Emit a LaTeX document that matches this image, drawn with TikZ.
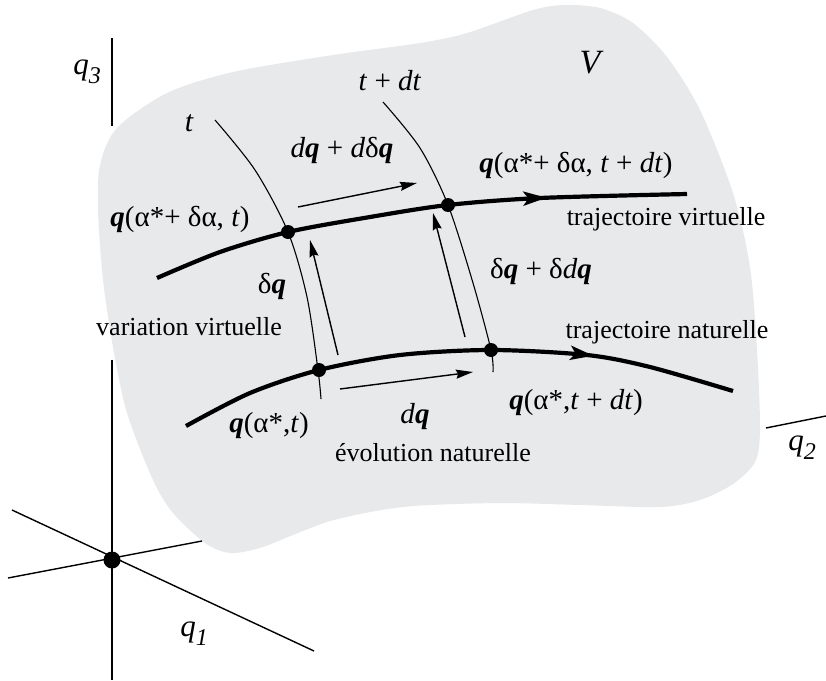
\documentclass[tikz,border=0pt]{standalone}
\usepackage{fontspec}
\setmainfont{Liberation Serif}
\usetikzlibrary{arrows.meta,decorations.markings}
\definecolor{regiongray}{RGB}{232,233,235}
\newcommand{\bq}{\textbf{\textit{q}}}
\begin{document}
\begin{tikzpicture}[x=1pt,y=-1pt,
  axisline/.style={line width=1.4pt,black},
  thincurve/.style={line width=1.1pt,black},
  traj/.style={line width=4.2pt,black,line cap=butt,postaction={decorate},
    decoration={markings,mark=at position #1 with {\arrow{Stealth[length=23pt,width=14pt,inset=5pt]}}}},
  vec/.style={line width=1.4pt,-{Stealth[length=17pt,width=9pt,inset=2pt]}},
  pt/.style={circle,fill=black,inner sep=0pt,minimum size=14pt},
  lbl/.style={inner sep=0pt,anchor=base,font=\fontsize{26}{28}\selectfont},
  mth/.style={inner sep=0pt,anchor=base,font=\fontsize{29}{31}\selectfont},
  big/.style={inner sep=0pt,anchor=center,font=\fontsize{31}{33}\selectfont\itshape}]
\useasboundingbox (0,0) rectangle (826,680);
% region V
\fill[regiongray] plot[smooth cycle] coordinates {
 (98,210) (100,165) (117,128) (167,93) (233,72) (333,55) (420,43) (467,33)
 (533,10) (565,5) (600,8) (633,23) (667,57) (700,110) (733,193) (750,267)
 (757,350) (760,430) (755,462) (733,484) (700,500) (660,507) (580,505)
 (503,503) (430,505) (395,508) (360,514) (327,522) (293,535) (260,548)
 (230,553) (205,543) (173,513) (153,480) (127,413) (113,347) (103,280)};
% axes
\coordinate (O) at (112,560);
\coordinate (q3a) at (112,38);
\coordinate (q3b) at (112,126);
\coordinate (q3c) at (112,360);
\coordinate (q3d) at (112,680);
\coordinate (q2a) at (8,578);
\coordinate (q2b) at (202,541);
\coordinate (q2c) at (766,428);
\coordinate (q2d) at (826,416);
\coordinate (q1a) at (12,510);
\coordinate (q1b) at (314,651);
\draw[axisline] (q3a) -- (q3b);
\draw[axisline] (q3c) -- (q3d);
\draw[axisline] (q2a) -- (q2b);
\draw[axisline] (q2c) -- (q2d);
\draw[axisline] (q1a) -- (q1b);
\node[pt,minimum size=17pt] (origin) at (O) {};
\node[big] (lq3) at (87,72) {q\raisebox{-0.28em}{\fontsize{24}{24}\selectfont 3}};
\node[big] (lq1) at (194,634) {q\raisebox{-0.28em}{\fontsize{24}{24}\selectfont 1}};
\node[big] (lq2) at (802,448) {q\raisebox{-0.28em}{\fontsize{24}{24}\selectfont 2}};
\node[inner sep=0pt,anchor=base,font=\fontsize{34}{36}\selectfont\itshape] (lV) at (590,73) {V};
% points
\coordinate (A) at (288,232);
\coordinate (B) at (448,205);
\coordinate (C) at (319,370);
\coordinate (D) at (491,350);
% iso-time curves
\draw[thincurve] plot[smooth] coordinates {(215,120) (255,170) (288,232) (307,297) (318,370) (321,399)};
\draw[thincurve] plot[smooth] coordinates {(383,102) (420,148) (448,205) (473,283) (491,350) (493,372)};
% trajectories
\draw[traj=0.74] plot[smooth] coordinates {(157,278) (220,252) (288,232) (370,217) (448,205) (540,198) (687,194)};
\draw[traj=0.745] plot[smooth] coordinates {(186,426) (250,393) (319,370) (400,355) (491,350) (587,355) (650,367) (733,391)};
\node[pt] (nA) at (A) {};
\node[pt] (nB) at (B) {};
\node[pt] (nC) at (C) {};
\node[pt] (nD) at (D) {};
% small vectors
\coordinate (v1s) at (298,207); \coordinate (v1e) at (417,183);
\coordinate (v2s) at (338,355); \coordinate (v2e) at (310,240);
\coordinate (v3s) at (465,337); \coordinate (v3e) at (433,213);
\coordinate (v4s) at (340,389); \coordinate (v4e) at (473,372);
\draw[vec] (v1s) -- (v1e);
\draw[vec] (v2s) -- (v2e);
\draw[vec] (v3s) -- (v3e);
\draw[vec] (v4s) -- (v4e);
% labels
\node[inner sep=0pt,anchor=base,font=\fontsize{30}{32}\selectfont\itshape] (lt) at (189,131) {t};
\node[mth] (ltdt) at (390,90) {\textit{t} + \textit{dt}};
\node[mth] (ldq1) at (342,157) {\textit{d}\bq{} + \textit{d}δ\bq};
\node[mth] (lqA) at (180,226) {\bq(α*+ δα, \textit{t})};
\node[mth] (lqB) at (576,172) {\bq(α*+ δα, \textit{t} + \textit{dt})};
\node[lbl] (ltv) at (666,225) {trajectoire virtuelle};
\node[mth] (ldq2) at (272,293) {δ\bq};
\node[mth] (ldq3) at (541,278) {δ\bq{} + δ\textit{d}\bq};
\node[lbl] (lvv) at (189,335) {variation virtuelle};
\node[lbl] (ltn) at (667,338) {trajectoire naturelle};
\node[mth] (lqC) at (269,432) {\bq(α*,\textit{t})};
\node[mth] (ldq4) at (415,423) {\textit{d}\bq};
\node[lbl] (len) at (433,461) {évolution naturelle};
\node[mth] (lqD) at (576,409) {\bq(α*,\textit{t} + \textit{dt})};
\end{tikzpicture}
\end{document}
